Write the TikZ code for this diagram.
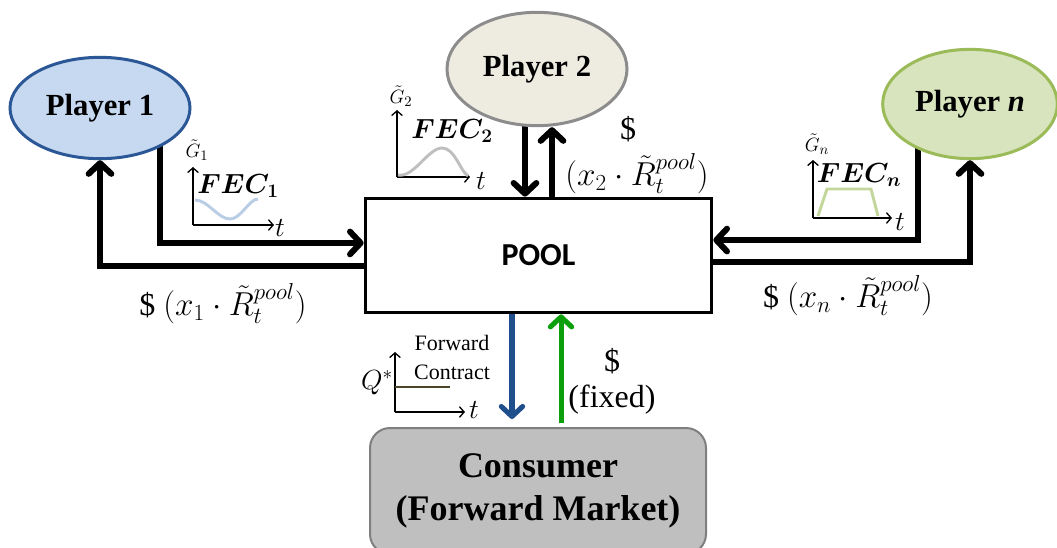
\documentclass[tikz,border=0pt]{standalone}
\usepackage{amsmath,bm}
\usepackage{fontspec}
\setmainfont{Liberation Serif}
\newfontfamily\calib{Carlito}
\usetikzlibrary{shapes.geometric,arrows.meta,calc}
\pgfdeclarelayer{bg}
\pgfsetlayers{bg,main}

\definecolor{pAfill}{HTML}{C6D9F1}
\definecolor{pAline}{HTML}{2B5797}
\definecolor{pBfill}{HTML}{EEECE1}
\definecolor{pBline}{HTML}{8C8C8C}
\definecolor{pNfill}{HTML}{D7E4BD}
\definecolor{pNline}{HTML}{9BBB59}
\definecolor{cfill}{HTML}{BFBFBF}
\definecolor{cline}{HTML}{7F7F7F}
\definecolor{waveA}{HTML}{B9CDE5}
\definecolor{waveB}{HTML}{BFBFBF}
\definecolor{waveN}{HTML}{C3D69B}
\definecolor{fcline}{HTML}{4A452A}
\definecolor{qarrow}{HTML}{1F4E8C}
\definecolor{parrow}{HTML}{0BA00B}

\begin{document}
\begin{tikzpicture}[x=0.75pt,y=-0.75pt,
  player/.style={ellipse, draw, line width=2.25pt, inner sep=0pt,
    font=\fontsize{23}{27}\selectfont\bfseries},
  flow/.style={line width=4.5pt, -{Straight Barb[length=8pt,width=17pt,round]}},
  cflow/.style={line width=3.8pt, -{Straight Barb[length=7.5pt,width=16pt,round]}},
  ax/.style={line width=1pt, -{Straight Barb[length=3.5pt,width=8pt]}},
  curve/.style={line width=2.2pt},
  lbl/.style={font=\fontsize{24}{28}\selectfont, inner sep=0pt},
  axlbl/.style={font=\fontsize{21}{24}\selectfont, inner sep=0pt},
  glbl/.style={font=\fontsize{15}{17}\selectfont, inner sep=0pt},
  feclbl/.style={font=\fontsize{21}{24}\selectfont, inner sep=0pt}]
\clip (0,0) rectangle (1057,547);

% players, pool and consumer
\node[player, fill=pAfill, draw=pAline, minimum width=135pt, minimum height=76pt] (p1) at (100,108) {Player 1};
\node[player, fill=pBfill, draw=pBline, minimum width=135pt, minimum height=85pt] (p2) at (537,69) {Player 2};
\node[player, fill=pNfill, draw=pNline, minimum width=131pt, minimum height=82pt] (pn) at (970,104) {Player \textit{n}};
\node[draw, line width=2.25pt, minimum width=260pt, minimum height=86pt, inner sep=0pt,
  font=\calib\bfseries\fontsize{24}{28}\selectfont] (pool) at (538.5,255.5) {POOL};
\node[draw=cline, fill=cfill, line width=1.5pt, rounded corners=15pt, minimum width=252pt,
  minimum height=94.5pt, align=center, font=\fontsize{27}{32}\selectfont\bfseries] (cons) at (538,491)
  {Consumer\\(Forward Market)};

% port coordinates
\coordinate (d2) at ([xshift=-9pt]p2.center);
\coordinate (u2) at ([xshift=11.25pt]p2.center);
\coordinate (qf) at ([xshift=-19.9pt]pool.south);
\coordinate (pf) at ([xshift=16.9pt]pool.south);

% flows between players and pool
\begin{pgfonlayer}{bg}
\draw[flow] (p1.center) ++(60,0) |- ([yshift=9.4pt]pool.west);
\draw[flow] ([yshift=-7.9pt]pool.west) -| (p1.south);
\draw[flow] (pn.center) ++(-52,0) |- ([yshift=11.6pt]pool.east);
\draw[flow] ([yshift=-4.9pt]pool.east) -| (pn.south);
\draw[flow] (d2) -- (d2 |- pool.north);
\draw[flow] (u2 |- pool.north) -- (u2 |- p2.south);
\end{pgfonlayer}

% flows between pool and consumer
\draw[cflow, qarrow, shorten >=6pt] (qf) -- (qf |- cons.north);
\draw[cflow, parrow, shorten <=3pt] (pf |- cons.north) -- (pf);

% payment labels
\node[lbl] at (223,304) {\$ $(x_1\cdot\tilde{R}_t^{pool})$};
\node[lbl] at (848,296) {\$ $(x_n\cdot\tilde{R}_t^{pool})$};
\node[lbl] at (628,129) {\$};
\node[lbl] at (637,174) {$(x_2\cdot\tilde{R}_t^{pool})$};
\node[lbl] at (612,361) {\$};
\node[lbl] at (612,400) {(fixed)};

% FEC of player 1
\draw[ax] (193,225) -- (193,167);
\draw[ax] (193,225) -- (274,225);
\node[axlbl] at (280,228) {$t$};
\node[glbl] at (197,150) {$\tilde{G}_1$};
\node[feclbl] at (238,186) {$\boldsymbol{FEC_1}$};
\draw[curve, waveA] (195,200) .. controls (208,200) and (218,219) .. (230,219)
  .. controls (241,219) and (249,199) .. (258,199);

% FEC of player 2
\draw[ax] (397,177) -- (397,110);
\draw[ax] (397,177) -- (470,177);
\node[axlbl] at (481,181) {$t$};
\node[glbl] at (401,96) {$\tilde{G}_2$};
\node[feclbl] at (452,131) {$\boldsymbol{FEC_2}$};
\draw[curve, waveB] (398,175) .. controls (414,178) and (428,148) .. (442,148)
  .. controls (455,148) and (460,171) .. (468,176);

% FEC of player n
\draw[ax] (813,218) -- (813,160);
\draw[ax] (813,218) -- (892,218);
\node[axlbl] at (900,222) {$t$};
\node[glbl] at (817,144) {$\tilde{G}_n$};
\node[feclbl] at (859,175) {$\boldsymbol{FEC_n}$};
\draw[curve, waveN] (818,216) -- (827,189) -- (871,189) -- (878,216);

% forward contract profile
\draw[ax] (395,412) -- (395,352);
\draw[ax] (395,412) -- (465,412);
\draw[curve, fcline] (395,387) -- (450,387);
\node[axlbl] at (474,410) {$t$};
\node[axlbl] at (377,383) {$Q^*$};
\node[font=\fontsize{16.5}{19}\selectfont, inner sep=0pt] at (452,343) {Forward};
\node[font=\fontsize{16.5}{19}\selectfont, inner sep=0pt] at (452,372) {Contract};
\end{tikzpicture}
\end{document}
